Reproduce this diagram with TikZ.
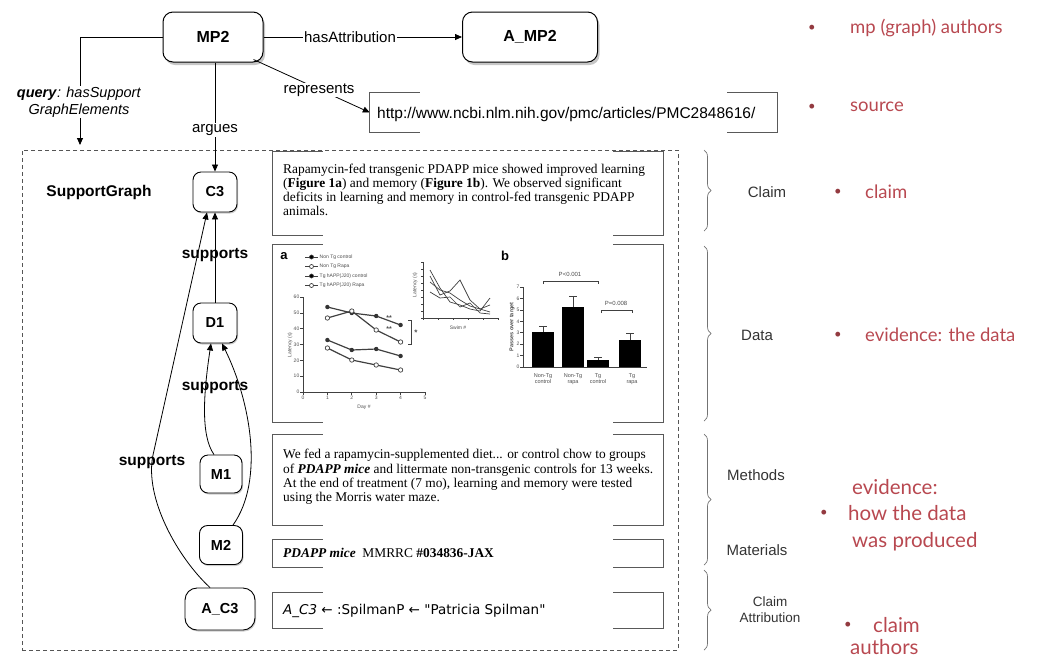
\documentclass[tikz,border=0pt]{standalone}
\usepackage{fontspec}
\setmainfont{Liberation Serif}
\setsansfont{Liberation Sans}
\newfontfamily\redfont{Lato}
\newfontfamily\djv{DejaVu Sans}
\usetikzlibrary{arrows.meta,shadows,decorations.pathreplacing}
\definecolor{redtxt}{RGB}{184,72,80}
\definecolor{frm}{RGB}{85,85,85}
\begin{document}
\begin{tikzpicture}[x=1pt,y=-1pt,
  gnode/.style={draw=black, line width=1pt, fill=white, rounded corners=10pt,
     font=\sffamily\bfseries\fontsize{16}{18}\selectfont,
     drop shadow={shadow xshift=2pt, shadow yshift=-3pt, opacity=0.45}},
  snode/.style={draw=black, line width=0.9pt, fill=white, rounded corners=8pt,
     font=\sffamily\bfseries\fontsize{14.5}{16}\selectfont,
     drop shadow={shadow xshift=1pt, shadow yshift=-1.5pt, opacity=0.4}},
  arr/.style={-{Triangle[length=7pt,width=6pt]}, line width=0.8pt},
  elabel/.style={font=\sffamily\fontsize{15}{17}\selectfont, fill=white, inner sep=1pt},
  slabel/.style={font=\sffamily\bfseries\fontsize{15.5}{17}\selectfont, inner sep=0pt},
  tbox/.style={draw=none, inner sep=0pt},
  bracket/.style={draw=black!65, line width=1.3pt},
  btext/.style={font=\fontsize{13.4}{14.2}\selectfont, align=left, anchor=west, inner sep=0pt},
  brc/.style={draw=black!55, line width=0.7pt, decorate, decoration={brace, amplitude=7pt}},
  blab/.style={font=\sffamily\fontsize{15}{16}\selectfont, text=black!80, align=center},
  red/.style={font=\redfont\fontsize{18.5}{20}\selectfont, text=redtxt, anchor=west, inner sep=0pt},
  redbig/.style={font=\redfont\fontsize{20.5}{22}\selectfont, text=redtxt, anchor=west, inner sep=0pt},
  bul/.style={font=\redfont\fontsize{13}{16}\selectfont, text=redtxt!80!black, inner sep=0pt},
  ch/.style={line width=0.7pt, draw=black!75},
  tiny/.style={font=\sffamily\fontsize{5}{6}\selectfont, text=black!70, inner sep=0.5pt}
]
\useasboundingbox (0,0) rectangle (1048,657);

% top nodes
\node[gnode, minimum width=100, minimum height=50] (mp2) at (213,37) {MP2};
\node[gnode, minimum width=135, minimum height=50] (amp2) at (530,37) {A\_MP2};
\node[tbox, minimum width=407, minimum height=39] (url) at (573.5,112.5) {};
\node[font=\sffamily\fontsize{15.5}{17}\selectfont, anchor=west, inner sep=0pt] (urltxt) at (377,114) {http://www.ncbi.nlm.nih.gov/pmc/articles/PMC2848616/};

% dashed frame
\node[draw=frm, dashed, dash pattern=on 4pt off 3pt, line width=0.9pt, minimum width=656, minimum height=500, inner sep=0pt] (frame) at (350,400) {};
\node[slabel] (sglab) at (99,192) {SupportGraph};

% graph nodes
\node[snode, minimum width=44, minimum height=40] (c3) at (215,192) {C3};
\node[snode, minimum width=44, minimum height=40] (d1) at (215,323) {D1};
\node[snode, minimum width=42, minimum height=38] (m1) at (221,474) {M1};
\node[snode, minimum width=43, minimum height=39] (m2) at (221,545) {M2};
\node[snode, minimum width=70, minimum height=42, rounded corners=12pt] (ac3) at (220,609) {A\_C3};

% top connectors
\draw[arr] (mp2.east) -- (amp2.west);
\node[elabel] (hasatt) at (350,37) {hasAttribution};
\coordinate (qend) at (80,145);
\draw[arr] (mp2.west) -| (qend);
\node[font=\sffamily\fontsize{14.5}{17}\selectfont, fill=white, inner sep=1pt, align=center] (qlab) at (79,102) {\textbf{\textit{query}}\textit{: hasSupport}\\\textit{GraphElements}};
\draw[arr] (mp2.south -| c3.north) -- (c3.north);
\node[elabel] (argues) at (215,130) {argues};
\coordinate (repstart) at ([xshift=-10pt, yshift=3pt]mp2.south east);
\draw[arr] (repstart) -- (url.west);
\node[elabel] (rep) at (319,90) {represents};

% supports connectors
\draw[arr] (d1.north) -- (c3.south);
\node[slabel] (sup1) at (215,255) {supports};
\draw[arr] ([xshift=-10pt]ac3.north) .. controls (178,558) and (144,498) .. (153,455) -- ([xshift=-8pt]c3.south);
\draw[arr] ([xshift=-7pt]m1.north) .. controls (200,435) and (204,390) .. ([xshift=-4pt]d1.south);
\draw[arr] ([xshift=12pt]m2.north) .. controls (265,480) and (250,400) .. ([xshift=7pt]d1.south);
\node[slabel] (sup2) at (215,387) {supports};
\node[slabel] (sup3) at (152,462) {supports};

% text boxes
\node[tbox, minimum width=390, minimum height=83] (claimbox) at (468,193.5) {};
\node[tbox, minimum width=390, minimum height=177] (databox) at (468,333.5) {};
\node[tbox, minimum width=390, minimum height=90] (methbox) at (468,480) {};
\node[tbox, minimum width=390, minimum height=27] (matbox) at (468,553.5) {};
\node[tbox, minimum width=390, minimum height=35] (attbox) at (468,610.5) {};
\foreach \b in {url,claimbox,databox,methbox,matbox,attbox}{
  \draw[bracket] ([xshift=50pt]\b.north west) -- (\b.north west) -- (\b.south west) -- ([xshift=50pt]\b.south west);
  \draw[bracket] ([xshift=-50pt]\b.north east) -- (\b.north east) -- (\b.south east) -- ([xshift=-50pt]\b.south east);
}

\node[btext] (claimtxt) at (283,190) {Rapamycin-fed transgenic PDAPP mice showed improved learning\\(\textbf{Figure 1a}) and memory (\textbf{Figure 1b}). We observed significant\\deficits in learning and memory in control-fed transgenic PDAPP\\animals.};
\node[btext] (methtxt) at (283,477) {We fed a rapamycin-supplemented diet... or control chow to groups\\of \textbf{\textit{PDAPP mice}} and littermate non-transgenic controls for 13 weeks.\\At the end of treatment (7 mo), learning and memory were tested\\using the Morris water maze.};
\node[btext] (mattxt) at (283,553) {\textbf{\textit{PDAPP mice}}\ \ MMRRC \textbf{\#034836-JAX}};
\node[btext, font=\djv\fontsize{13.5}{15}\selectfont] (atttxt) at (283,611) {\textit{A\_C3} ← :SpilmanP ← "Patricia Spilman"};

% chart panel a
\node[font=\sffamily\bfseries\fontsize{13}{14}\selectfont, inner sep=0pt] (pa) at (284,256) {a};
\foreach \yy/\t/\f in {257/Non Tg control/black, 266.5/Non Tg Rapa/white, 276/Tg hAPP(J20) control/black, 285.5/Tg hAPP(J20) Rapa/white}{
  \draw[ch] (305,\yy) -- (318,\yy);
  \draw[ch, fill=\f] (311.5,\yy) circle (2pt);
  \node[tiny, anchor=west] at (319,\yy) {\t};
}
\draw[ch] (303,297) -- (303,392) -- (425,392);
\foreach \k/\v in {0/0,1/10,2/20,3/30,4/40,5/50,6/60}{
  \draw[ch] (300,392-15.83*\k) -- (303,392-15.83*\k);
  \node[tiny, anchor=east] at (300,392-15.83*\k) {\v};
}
\foreach \k in {0,...,5}{
  \draw[ch] (303+24.4*\k,392) -- (303+24.4*\k,395);
  \node[tiny, anchor=north] at (303+24.4*\k,395) {\k};
}
\node[tiny] at (364,407) {Day \#};
\node[tiny, rotate=90] at (290,345) {Latency (s)};
\draw[ch, line width=1.2pt] (327.4,307) -- (351.8,313) -- (376.2,316) -- (400.6,325);
\draw[ch, line width=1.2pt] (327.4,318) -- (351.8,311) -- (376.2,330) -- (400.6,342);
\draw[ch, line width=1.2pt] (327.4,340) -- (351.8,350) -- (376.2,349) -- (400.6,356);
\draw[ch, line width=1.2pt] (327.4,348) -- (351.8,360) -- (376.2,365) -- (400.6,370);
\foreach \p in {(327.4,307),(351.8,313),(376.2,316),(400.6,325),(327.4,340),(351.8,350),(376.2,349),(400.6,356)} \fill[black!80] \p circle (2.2pt);
\foreach \p in {(327.4,318),(351.8,311),(376.2,330),(400.6,342),(327.4,348),(351.8,360),(376.2,365),(400.6,370)} \draw[ch, fill=white] \p circle (2.2pt);
\draw[ch] (408,320) -- (411,320) -- (411,344) -- (408,344);
\node[tiny, font=\sffamily\bfseries\fontsize{8}{8}\selectfont] at (416,333) {*};
\node[tiny, font=\sffamily\bfseries\fontsize{7}{8}\selectfont] at (389,318) {**};
\node[tiny, font=\sffamily\bfseries\fontsize{7}{8}\selectfont] at (389,329) {**};
% inset
\draw[ch] (423,262) -- (423,318) -- (498,318);
\foreach \k in {0,...,8} \draw[ch] (421,318-7*\k) -- (423,318-7*\k);
\foreach \k in {0,...,5} \draw[ch] (423+15*\k,318) -- (423+15*\k,320);
\node[tiny] at (458,328) {Swim \#};
\node[tiny, rotate=90] at (415,285) {Latency (s)};
\draw[ch] (430,282) -- (440,290) -- (450,293) -- (460,300) -- (470,306) -- (480,309) -- (490,305);
\draw[ch] (430,276) -- (440,295) -- (450,291) -- (460,280) -- (470,300) -- (480,309) -- (490,312);
\draw[ch] (430,270) -- (440,288) -- (450,302) -- (460,305) -- (470,309) -- (480,311) -- (490,298);
\draw[ch] (430,292) -- (440,298) -- (450,297) -- (460,307) -- (470,303) -- (480,313) -- (490,314);

% chart panel b
\node[font=\sffamily\bfseries\fontsize{13}{14}\selectfont, inner sep=0pt] (pb) at (505,256) {b};
\draw[ch] (523,287) -- (523,367) -- (647,367);
\foreach \k in {0,...,7}{
  \draw[ch] (520,367-11.4*\k) -- (523,367-11.4*\k);
  \node[tiny, anchor=east] at (520,367-11.4*\k) {\k};
}
\foreach \cx/\top/\err in {543/332/326, 573/307/296, 598/360/357, 630/340/333}{
  \fill[black] (\cx-11,\top) rectangle (\cx+11,367);
  \draw[ch] (\cx,\top) -- (\cx,\err);
  \draw[ch] (\cx-4,\err) -- (\cx+4,\err);
}
\draw[ch] (543,284) -- (543,281) -- (598,281) -- (598,284);
\node[tiny, font=\sffamily\fontsize{6}{7}\selectfont] at (570,274) {P<0.001};
\draw[ch] (601,313) -- (601,310) -- (632,310) -- (632,313);
\node[tiny, font=\sffamily\fontsize{6}{7}\selectfont] at (616,303) {P=0.008};
\foreach \cx/\a/\bb in {543/Non-Tg/control, 573/Non-Tg/rapa, 598/Tg/control, 632/Tg/rapa}{
  \node[tiny, font=\sffamily\fontsize{5.5}{6}\selectfont, align=center] at (\cx,379) {\a\\\bb};
}
\node[tiny, rotate=90, font=\sffamily\bfseries\fontsize{5.5}{6}\selectfont] at (512,327) {Passes over target};

% braces and labels
\draw[brc] (704,150) -- (704,231);
\draw[brc] (704,246) -- (704,421);
\draw[brc] (704,434) -- (704,565);
\draw[brc] (704,570) -- (704,650);
\node[blab] (lclaim) at (767,192) {Claim};
\node[blab] (ldata) at (757,335) {Data};
\node[blab] (lmeth) at (756,475) {Methods};
\node[blab] (lmat) at (757,550) {Materials};
\node[blab, font=\sffamily\fontsize{13.5}{16}\selectfont] (latt) at (770,610) {Claim\\Attribution};

% red bullets
\node[bul] at (812,28) {•};
\node[red] (r1) at (850,28) {mp (graph) authors};
\node[bul] at (812,107) {•};
\node[red] (r2) at (850,107) {source};
\node[bul] at (838,192) {•};
\node[red] (r3) at (865,192) {claim};
\node[bul] at (838,335) {•};
\node[red] (r4) at (865,335) {evidence: the data};
\node[redbig] (r5) at (852,487) {evidence:};
\node[bul] at (824,513) {•};
\node[redbig] (r6) at (848,513) {how the data};
\node[redbig] (r7) at (852,542) {was produced};
\node[bul] at (848,625) {•};
\node[redbig] (r8) at (873,625) {claim};
\node[redbig] (r9) at (850,647) {authors};
\end{tikzpicture}
\end{document}
